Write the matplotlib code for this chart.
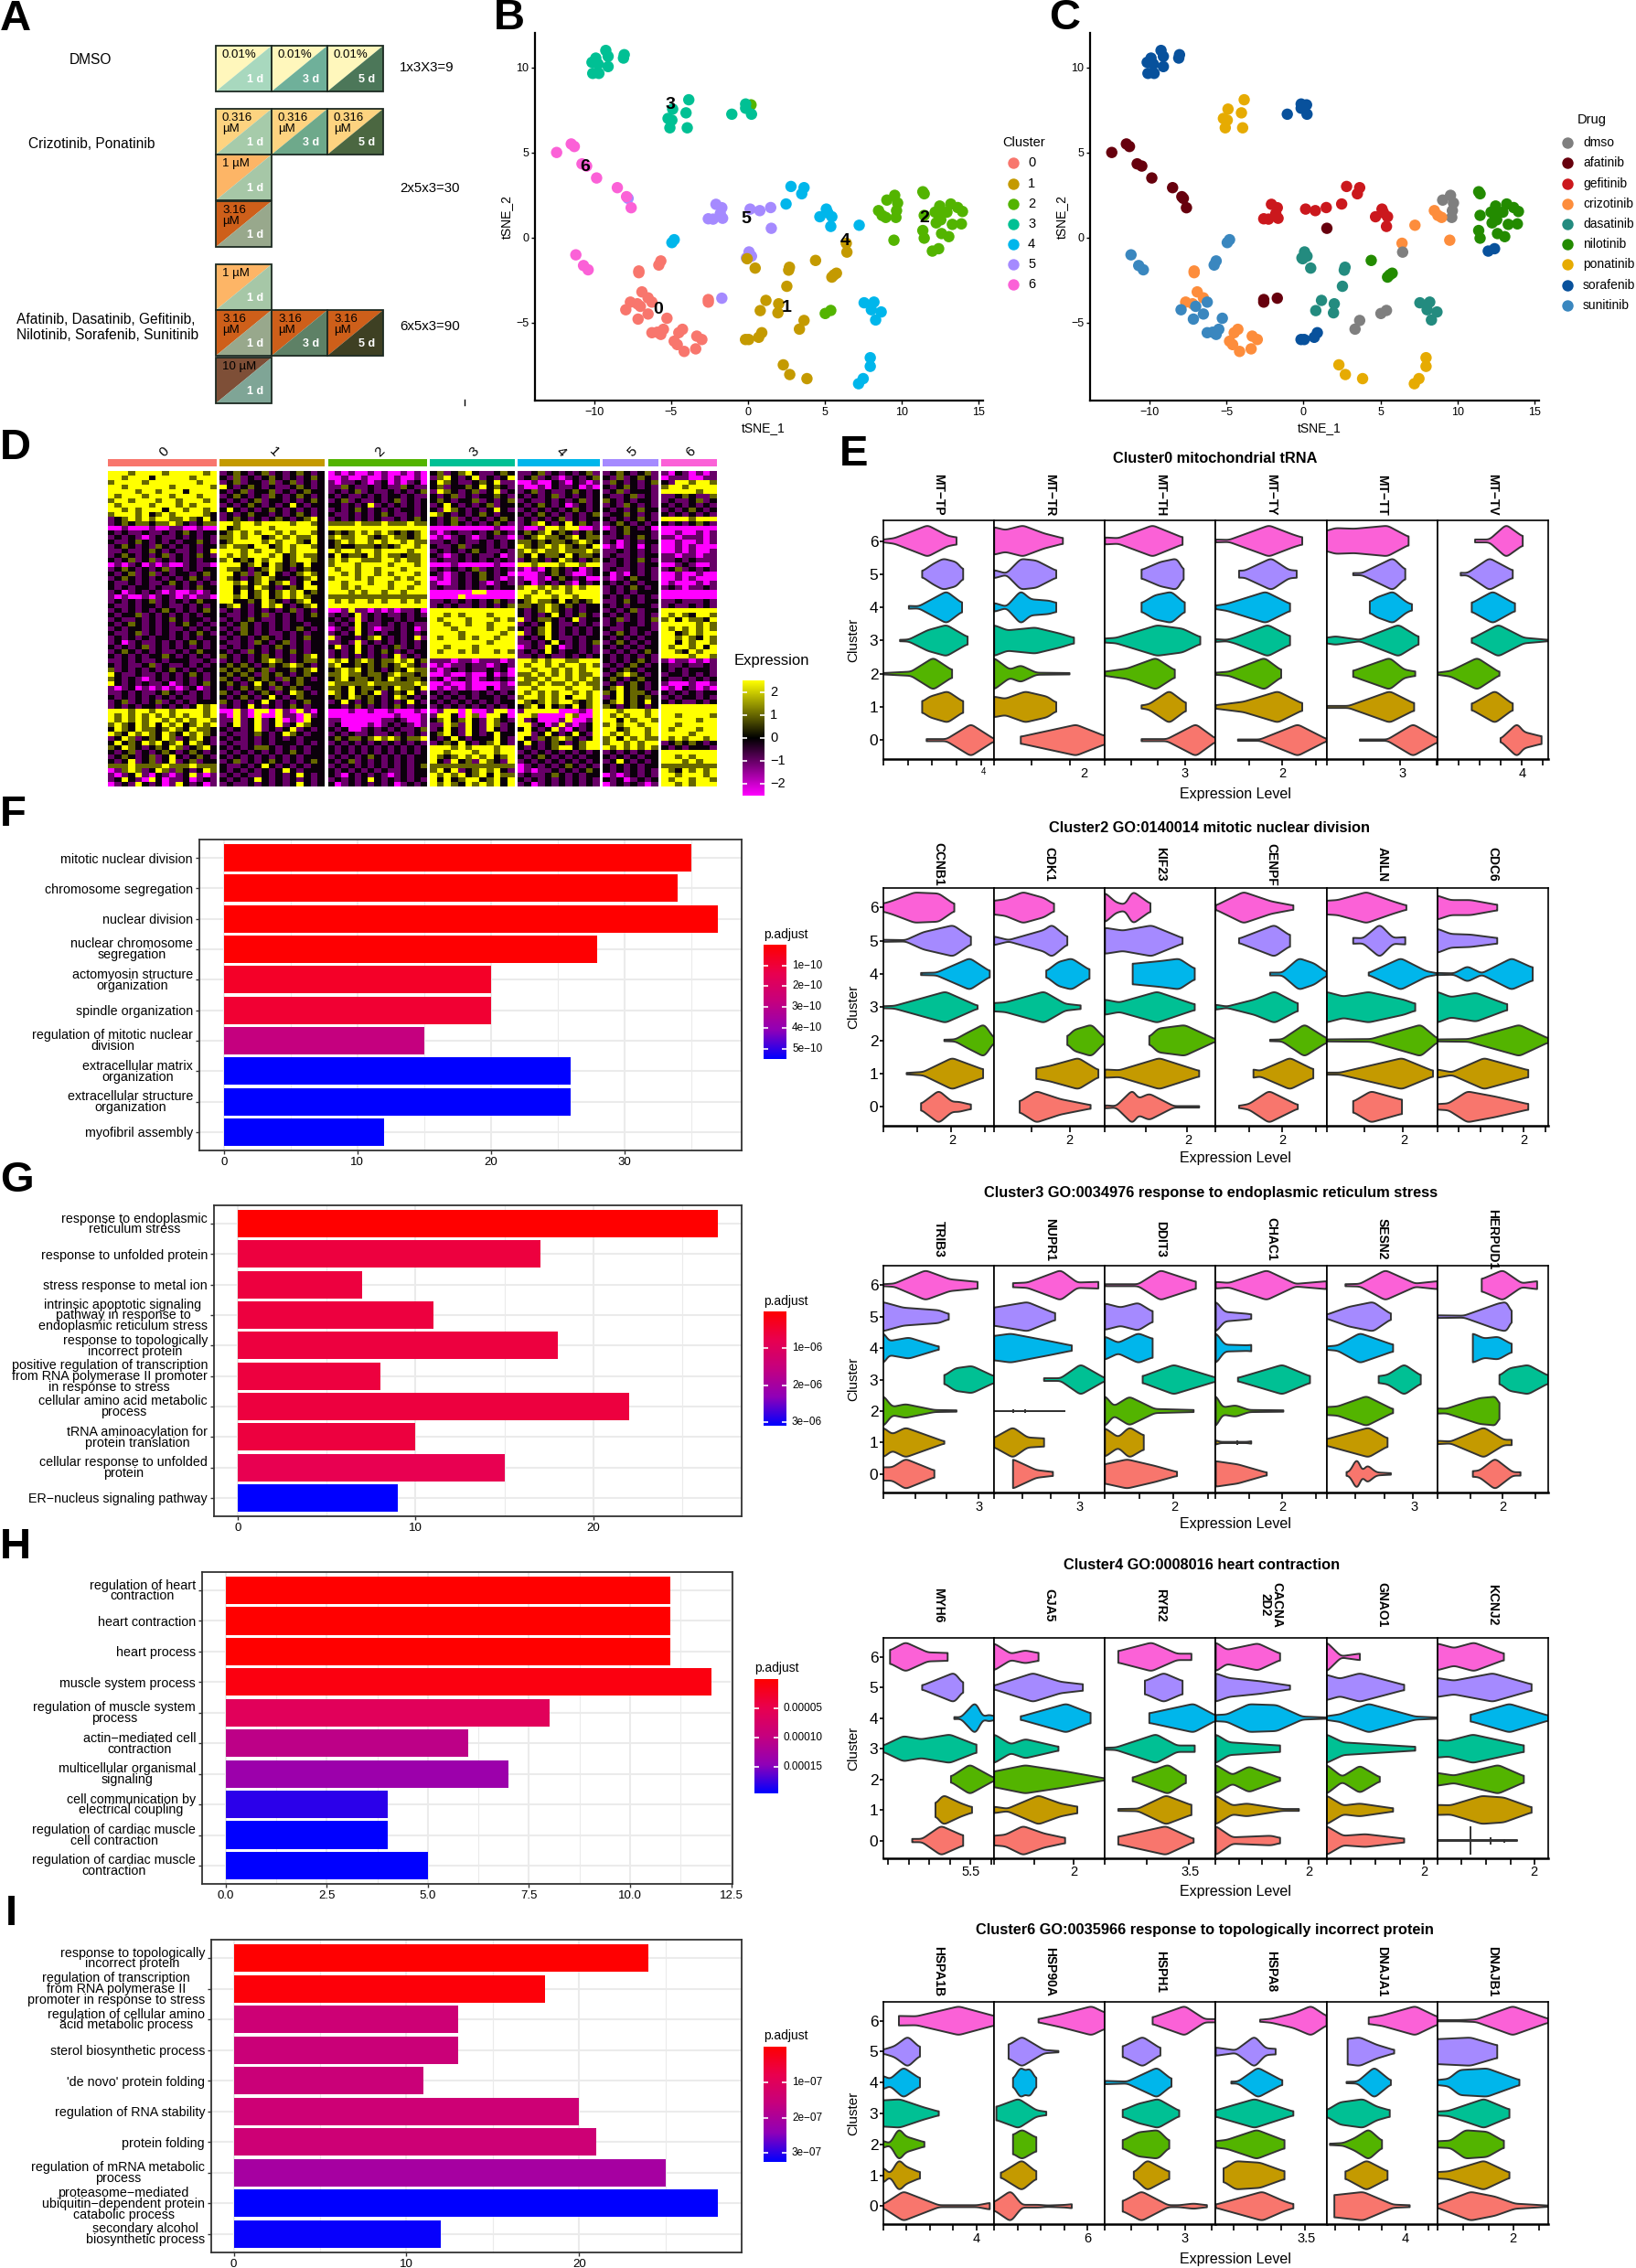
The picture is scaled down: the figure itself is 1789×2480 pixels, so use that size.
import numpy as np
import matplotlib
matplotlib.use('Agg')
import matplotlib.pyplot as plt
from matplotlib.colors import LinearSegmentedColormap
from matplotlib.patches import Polygon, Rectangle

plt.rcParams['font.family'] = ['Liberation Sans', 'DejaVu Sans']

W, H = 1790, 2480

# --- tSNE cells (panels B, C) ---
tsne1 = [-9.25,-9.1,-8.05,-8.1,-9.9,-10.15,-9.75,-9.1,-10.1,-9.7,  -3.85,-4.03,-3.95,-4.9,-5.2,-4.95,-5.08,
         0.2,  -0.15,-0.15,0.23,-1.05,  -7.8,  -12.45,-11.5,-11.3,-10.8,-10.5,-9.85,-8.5,-7.9,-7.6,  -11.2,-10.7,-10.4,
         -4.95,-4.8,  -5.8,-5.67,  -7.1,-7.1,-6.9,-6.5,-7.65,-7.2,
         -6.25,-7.95,-7.0,-6.5,-7.15,-5.27,-6.25,-5.5,-5.67,-5.9,
         -4.26,-4.5,-4.8,-4.6,-4.15,-3.4,-3.33,-3.0,  -2.58,-2.58,  -1.7,1.52,
         -2.08,-1.7,-1.8,-1.65,-2.58,-2.27,0.14,0.77,1.48,  0.07,0.23,-0.1,
         -0.05,0.47,2.7,2.65,2.53,1.17,0.8,2.0,1.95,  4.4,5.76,5.46,5.6,  6.4,  6.44,3.65,3.35,
         -0.16,0.05,0.7,0.9,  2.3,2.72,3.84,  7.96,7.96,7.5,7.2,  7.56,8.2,8.03,8.67,8.31,  5.03,5.39,
         2.8,3.65,3.5,2.48,5.1,5.2,4.68,5.46,5.39,  7.24,  9.55,9.04,9.74,9.67,9.63,  8.5,8.73,8.97,9.5,
         11.38,11.47,11.47,11.38,11.47,12.6,13.07,12.48,12.18,12.55,13.2,13.65,12.95,13.96,13.3,13.89,12.25,12.55,  12.0,12.41]
tsne2 = [11.0,10.65,10.75,10.55,10.55,10.3,10.2,10.05,9.65,9.65,  8.1,7.33,6.45,7.55,7.0,6.9,6.45,
         7.8,  7.85,7.6,7.25,7.25,  2.3,  5.0,5.5,5.35,4.33,4.2,3.5,2.93,2.4,1.75,  -1.02,-1.65,-1.9,
         -0.3,-0.13,  -1.62,-1.38,  -2.07,-1.97,-3.2,-3.55,-3.8,-3.9,
         -3.8,-4.25,-4.05,-4.5,-4.8,-4.75,-5.6,-5.4,-5.7,-5.57,
         -5.4,-5.6,-6.1,-6.3,-6.7,-6.55,-5.8,-6.0,  -3.65,-3.8,  -3.57,0.54,
         1.95,1.75,1.4,1.13,1.1,1.08,1.67,1.58,1.76,  -0.85,-1.1,-1.2,
         -1.25,-1.8,-1.75,-1.92,-2.87,-3.7,-4.3,-3.9,-4.43,  -1.35,-2.1,-2.33,-2.2,  -0.34,  -0.86,-4.88,-5.39,
         -6.0,-6.0,-5.87,-5.6,  -7.49,-8.06,-8.3,  -7.07,-7.58,-8.3,-8.6,  -3.84,-3.8,-4.25,-4.38,-4.85,  -4.47,-4.29,
         3.0,2.93,2.57,1.97,1.67,1.45,1.22,1.22,0.65,  0.72,  2.48,2.2,2.03,1.58,1.18,  1.58,1.3,1.18,-0.16,
         2.69,2.57,1.3,0.41,-0.04,0.23,0.05,1.85,1.49,1.49,1.97,1.76,1.49,1.53,0.77,0.8,0.86,1.04,  -0.8,-0.66]
group_n = [10,7,1,4,1,9,3,2,2,6,10,8,2,2,9,3,9,4,1,3,4,3,4,5,2,9,1,5,4,18,2]
group_cluster = [3,3,2,3,5,6,6,4,0,0,0,0,0,5,5,5,1,1,1,1,1,1,4,4,2,4,4,2,2,2,2]
group_drug = ['sorafenib','ponatinib','sorafenib','sorafenib','afatinib','afatinib','sunitinib','sunitinib','sunitinib',
              'crizotinib','sunitinib','crizotinib','afatinib','afatinib','gefitinib','dasatinib','dasatinib','nilotinib',
              'crizotinib','dmso','sorafenib','ponatinib','ponatinib','dasatinib','dmso','gefitinib','crizotinib','dmso',
              'crizotinib','nilotinib','sorafenib']
cluster_names = ['0','1','2','3','4','5','6']
cluster_colors = ['#F8766D','#C49A00','#53B400','#00C094','#00B6EB','#A58AFF','#FB61D7']
cluster_label_x = [-5.83,2.53,11.5,-5.08,6.32,-0.14,-10.6]
cluster_label_y = [-4.25,-4.13,1.13,7.83,-0.18,1.1,4.13]
drug_names = ['dmso','afatinib','gefitinib','crizotinib','dasatinib','nilotinib','ponatinib','sorafenib','sunitinib']
drug_colors = ['#7F7F7F','#67000D','#CB181D','#FD8D3C','#238B7F','#238B00','#E6AB02','#08519C','#3A87BF']

# --- heatmap (panel D), read by eye: m=-2 p=-1 .=0 o=1 y=2 ---
heat_rows = """yyyoyyyyoyyyyyoy p.o.p.op.p.o.p. mpmpmmpmpmmpmpm .op.oy.pp.o. pp.op.p.p.op p.o.p.op pm.pmpmp
yyoyyy.yyyyyoyyy .pop.p.o.p.p.o mmpmmpmmpmpmmpm poy.p.yp.p.y p.op.pmp.p.o .pop.o.p mpppmmpp
oyyyyoyyyyyyyoyy p.op..pop.op.p pmpp.pmp.mpmp.m .yo.pp.o.ypp mmpmm.pm.pmp po.p.p.o .pyyoyyo
yyoyyyyyyoyyyyyo y.p.o.p.pp.o.p ppo.pp.p.ppo.pp .op..o.y.o.p pmmpm.pp.mpm .p.o.p.p oyyoyyyy
yyyyoyyoyyy.yyyy .p.op..op.p.o. p.p.op.pp.p.p.o pyo.p.op.yp. p.op.pp.o.p. p.op...p yyyyyoyy
yoyyyoyyyoyyyoyy p.o.p.po.p.o.p .p.pp.p.p..p.pp .p.op.p..o.p .p.p.op.p.p. .pp.op.p pp.o.ppo
oyyoyyyoyyoyyyoy .p.p.op..p.p.o p.op.pp.p.op.p. .o.p..op.p.o p.pp.p.p.op. o.p.p..p p.pp.op.
yoyyyyoyyyoyoyyy p.p.o.p.p.y.p. ..p.p.yp.p.p.p. p.y.p.p.op.. .p.o.p.mp.p. p.po.p.p .p.p.p.p
yyoyoyyy.yyoyyoy .y.p.p.o.p.p.p p.p.o.p.p.p..p. .pyo.p.p.y.p p.p.p.p.o.p. .p.p.o.. p.p.o.p.
oyyyoy.oyoyyyyo. p.p.o..p.p.o.p .pp.p.p.o.pp.p. yo.p.p.o.p.. .p.o.p.p.p.o p..o.p.p .p.p.p.p
p.oyoyoyyooyo.y. p.o.p.p.o.p.oy p.p.p.p.pp.p.o. .p.op.p.p.o. p.p.p.op.p.. .p.p.o.p yyyyoyyy
p.o.oo.ooyo.p.oo yyoyyoyyyyoyyo ooooyoooyoooyoo .p.o.p.p.o.p p.oy.p.y.o.p p.o.p.p. .p.p.o.p
mmpmmmpmmppmmpmm y.oyyyyoyyyyyy yyyyyyyyyyyyyyy mmmmmmmmmpmm pmmpyyoyymmp mp.o.p.m mmmmmmmm
.p.pp.pp.p.o.p.. .oyoyoyyoyoyyo .o.oyoyoyo.o.oy pmp.pp.p.o.p .o.oy.o.p.o .p.o...p mmpmmpmp
p.p.pmp.pp.p.p.p ooyoyy.oyoyooy oyooyyo.oyoo.oy mpmp.pmp.ppm p.oyoo.oy.oo pp.p.o.p ppmpppmp
.pp.o.p.p.p..o.p .oyyyyoyoyyo.y .oyoyyoyoyyoyoo pp.p.pp.p.p. oo.o.oo.oyo. p.mp.p.. mmpmmpmp
p.o.p.po.p.p.p.. oyoo.yy.oyoyyo .o..ooo.o.oyyoy .pp.op..p.p. yo.oyoyo.o.y mpmp.m.p mmpmpmmm
pp.pp.o.p.pp.p.y yyyoyoyyoyoyyy yoyyoyyoyyyyoyy p.p.p.o.pp.p oyoyooyoooyo pp.p.p.p mmpmpmmp
p.o.p.p.op.p.o.p yoyoyyyoy.oyoo .y.oo.yoyoo.ooy .pmp.p.pp.mp o.y.oo.y.oo. p.pp.p.. ppmppmpp
.p.op.op.p.p.p.. oy.o.yoyy.oyyo oyoyyoooyyoyooy p.pp.p.p.p.p p.o.p.yo.p.o .p.p.o.p pp.p.ppp
mpmp.mpmpmmp.ppm yyy.oy.yo.o.y. oyyyoyyyyoyyyoy mmmpmmmmmpmm yyoyyyoyyoyy pp.p.p.. mmp.pmmp
p.o.p.p.op.p.p.. yoo.p.oyo.p.o. yoyyoyyoyyyoyyy p.p.p.op.p.p pmpm.o.p.mp. p.pp.p.p p.op.p.p
.p.op.op.p..p.o. yy.opo.y.p.oyo yyoyoyyoyoyyyoy .pmp.p.o.p.m mmmp.o.pmmp. .mpm.p.p mmpmmpmm
p.o.p.p.p.p.o.p. yo.p.oyo..p.oy oyyyoyoyyyoyoyy mpmp.p.o.pmp pmmpm.o.p.mm pmp.o..p mmpmpmmm
.pp.p.pp.o.p.p.p yyoy.oy.oyp.y. yyoyyyoyyoyyyoy pmmp.p.pmp.p p.mp.p.pm.p. .p.p.p.. mpmmmpmp
.p.p..p.pp.p.o.. yy.o.yo.p.o.yy yyoyoyyyyoyyoyy p.pp.p.p.p.. oyyoyoyoyoyy p.p.o.p. p.pmpp.p
p.mp.p.pmpmmpmp. yy.y.oy.oyoy.o yyyoyoyyoyyoyyy mmmmmmyymmmm yyoyoyyoyyyy p.p.p... mmmmmmmm
pmpmmpmp.pmpmppm yyoy.oy.oyoyo. ooooooooooooooo mmmmymmmmmmm yoyyyoyyoyyy .p.p.p.p mmmmmmmm
p.p.p.op.p.p.o.. yy..o.yo.p.oy. yoyoyyoyoyyoyoy pp.p.p.p.o.p .oyoo.y.o.oy pp.o.p.. pp.ppp.p
.pp.p..p.pp.p.p. .oy.p.yoy.p.oy yyyyyyyyyyyyyyy p.p.pp.p.p.o oo.oyo.o.p.. .p.p...p p.pp.p.p
p.p.p.p.o.p.p.o. p.p.p.p.p.op.p mmpyppmpmpmpp.m yyyyyyyyyyyy .p.oyo.p.p.. p.p.op.. yyyyyyyy
.p..op.p.p.p.p.. .pp.p.op.p.p.o p.p.yp.p.pp.p.p yyoyoyyyoyyy .p.p.y.p.o.p .p.p.p.p yoyo.yyo
p.pp.p.p.o.p..p. p.p.o.pp.p.p.. .p.pyp.p..p.p.. yoyyyoyyyoyo yp.oo.p.yp.. p.op.p.o oy.yoo.y
.p.o.p.p.p.o.p.p .p.o.p.p.p..p. p.p.y.pp.p.p.pp yyoyyoyyoyyy p.p.y.pp.p.p p.p..p.p yyyyyoyo
p.p..p.p.pp.p.p. p.po.p.p.p.o.p mp.py.pmpp.p.mp yyyoyyyyoyyo .p.oy.p.p.p. .pp.p..p yoyoyoyo
.pp.op.p.p.p.o.p .p.o.p.pp.p.p. p.p.y.p.p..p.p. yyyyoyyyyyoy yp.oy.p.p.p. p.o.p.p. yy.oyoyy
p.p.p.p..p.p.p.. p.p.p.o.p.p.o. yp..p.oy.p.p.yp yoyyoyoyyoyy p.p.y.pp.p.. .p.p.p.. yyoyo.yo
p.mp.pp.p.p.o.p. .pp.po.p.op.p. pp.pyp.p.p.p.p. yyyyyyyyoyyy pp.p.y.p.p.o p.o.p.p. yy.yoyyo
.p.p.op.p.p.p.p. p.p.p.p.o.p.p. .yp.y.p.p.op.p. yyoyyyoyyyyy mp.py.mp.p.p .p.p.p.. yoyyoy.y
p.o.p.p.pp.p.o.. .p.po.p.p.o.p. p.p.y.p.o.p.p.. yoyyoyoyyoyo p.p.y.p..p.p p.p.p.o. yyo.yoyy
.p.p.p..o.p.p.p. o.p.p.o.p.p.oy p.p.p.p.p.yp.p. yyyyyyyyyyyy pp.p.pp.p.p. .p.p.p.p yyyyoyyo
pp.p.pp.p...pp.p p.p.p.oyo.p.oo yoy.oyo.ooyoy.o pppmppmpppmp yyoyoyyooyyy .p.p.o.p pmppmpmp
.p.pp.op.pp.p.p. .o.o.p.o.oyo.p oy..o.o.o.oyo.p mpmpp.ppmp.p yoyyoyoyyoyo p.p.o.p. .pp.pp.p
op.p.p.p.o.p.p.. o.o.o.op..o.oy .oyoy.o.p.o.yoo pmp.p.pp.p.m yyoyyoyoyoyy .p.o.p.. .p.p...p
y.pp.pp.p.p.o.p. .o.o.po.o.p.o. ooyoo.oo.oyoo.o mmpmmpmm.mpm ooyoyoyoyooy p.oyo.p. p..p.p.p
o.p.pmp.p.p.p.p. o.p.o.o.po.o.p .oy.oo.o.yo.oo. p.mp.pmp.p.p yooyoyyoyoyo .o.p.o.. .pp.p.p.
y.p.p.pp.mp.p.o. .o.p.y.o.p.o.. yoooooyooooooyo mmpmmpmmmmpm ooyoyooyoyoo p.p.o.p. pmmmpmmp
pmp.mpmpmpmp.mp. .p.o.o.po.o.p. oo.y.oo.o.yoo.y mpmpmpmm.mpp yyoyyyyoyyyo .oy.o.p. mpm.pmpm
pp.p.pp.o.p.p.p. o.p.p.o.p.yo.p yo.y.o.yp.o.y.p .p.p..p.p.p. yoyoyoyyoyoy o.y.oo.p .p.p.p..
.p.p.p.p.p.pp.p. .p.o.p.y.p.o.. .o.yo.o.p.yo.p. p.p.p.p..p.p oyyoyoy.yyoy p.y.o.o. p.p..p.p
p.op.p.op.p.p... o.p.p.y.p.p.o. p.y.p.o.p.p.y.p .p.p.p.p.p.. yo.oyoyyo.oy .oy.o.y. .p.pp.p.
p.p.p..p.p.p.yoy p.p.y.p.p.o.p. ..p.o.p.p.o.p.. p.p.p.p.p.p. .oy.y.o.y.oy o.p.o.p. yyyyyyyy
yyyoyyoyyoyyyyoy mmypmyymypmypm mmmpmmpmmpmmmpm mpyymymmpyym pyyyyymmmpmy yyoyyyoy yyyyyyyy
yoyoyoyoyoyoyyoy pmypmymmyppmyp mmmmmmmmmmpmmmp pyy.myomyy.m yyommmmyommy yoyoyyoy yyoyyyyo
yoyoyoyyoyoyoyyo ppyp.yp.ympmy. ppmmmmmmpp.pmmp .oy.oy.pyo.p yp.mmmpymmpy yy.yoyyo yyyyyoyy
oyo.yoy.yoy.oyoy p.yp.yp.yp.yo. p.mmmmpmp.p.pmp ppyopy.pyop. yyp.mpypmp.y oyoyyoyy yyoyyyyy
.yo.yoo.oyo.yoo. .p.p.yp.p.yp.p .p.mmp.p.p.pp.o p.y.py.py.p. .y.p.ypm.p.y yy.oyyoy yoyyyoyy
yo.yoyo.yo.yoyo. p.pp.o.p.yo.p. p.p.pp.pp.p.p.p .oy.py.p.y.. yyp.y.p.y.py yoyoyyoy yyyyoyyy
p.yop.o.yop.oy.p .p.p.p.p.p.p.. .o.oo.oyoyo.ooy .p.y.p...y.p y.po.oyo.p.y oy.yoyoo yoyoyyoy
.y.o.yoy.oy.yo.p p.pp.p.p...p.p p.p.p.p.p.p.p.p p.o.y.p.oy.p .y.p.o.p.oyy oyyoyoyy p.o.o.p.
o.yo.p.o.yop.oy. .p.p.oo.p.p.p. .p.p.p.p.p.p.p. yyyoyoyyyoyy .p.p.oyy.oyy yoyoyoyo .p.p...p
.p.op.p.o.p.o.p. p.p.p.p.p.o.p. .p.p.p.p.p.p.p. yyoyyyoyyoyy p.p.p.p.p.p. p.p.p.p. yyyyyyyy
p.o.p.op.y.p.o.p .p.p.p.p.p.p.. p.p.p.o.p.p.p.. yo.oyoyoy.oy .p.o.p.p.p.. .p.p.p.. yyoyoyyy
.p.yp.op.yp.op.. p.op.p.o.p.p.o .p.op.p.p.p.p.. y.py.opyo.py p.p.p.p.p.p. p.y.p.p. yyyoyoyy
oooyooooyoooyooo .pp.p.y.p.p.p. p.p.p.p.p.p.p.o oooooooooooo mp.p.p.o.p.p .p.p.p.. oooooooo
mpoyop.yopo.p.yo .p.p.p.p.y.p.. .p.p.p.p.pp.p.. oy.yp.oyoy.p mpmpp.p.p.o. .p.p.p.p yo.yoyoy
pmp.ypm.pmp.ypmp p.p.pp.p.p.y.p .pm.p.p.pmp.p.. yoyoy.oy.yoo p.pp.o.p.p.. mpmp.p.p yyoyyyoy
p.y.pmy.mpp.mp.p .p.p.y.p.p.p.p p.p.p.y.p.p.p.p y.y.oyy.oy.y .p.p.p.p.p.p .p.mp.p. yoyyoyyo
mp.py.p.mpy.p.mp p.pp.p.p.p.y.p .mp.p.p.p.mp.p. yoyo.yoyoy.y p.mp.p.p.p.p mp.p.pmp yyoyoyyy""".split('\n')
heat_levels = {'m': -2.5, 'p': -1.0, '.': -0.1, 'o': 1.0, 'y': 2.5}

# --- violins (panel E): "x halfwidth" knots per cluster, top row (6) to bottom row (0) ---
genes_e1 = ['MT\u2212TP','MT\u2212TR','MT\u2212TH','MT\u2212TY','MT\u2212TT','MT\u2212TV']
viol_e1 = [
 ["0 4,10 8,40 45,58 15,66 10","35 8,45 30,54 45,66 35,72 12","23 4,32 3,57 45,71 12","15 2,23 3,40 30,57 45,76 10","0 2,25 6,45 45,62 10","35 15,42 30,58 45,72 15","39 3,57 3,79 45,100 3"],
 ["0 40,10 32,26 45,45 22,62 8","0 12,11 2,24 45,38 40,56 10","0 12,11 2,24 45,33 22,50 18,56 12","0 45,12 30,37 38,60 20,72 8","0 45,14 12,24 24,38 3,68 2","0 30,10 24,28 45,48 30,56 12","24 10,74 45,100 12"],
 ["0 10,12 8,43 45,70 10","33 12,50 35,65 45,71 10","33 12,45 35,60 45,72 12","0 6,10 8,47 45,70 35,86 10","0 6,20 15,46 45,63 10","33 4,40 8,58 45,73 10","33 3,56 3,82 45,100 4"],
 ["0 4,12 3,48 45,70 18,78 10","21 10,26 10,50 45,66 12,73 10","0 5,10 10,45 45,67 10","0 4,10 2,17 8,47 45,67 12","0 3,12 6,22 18,44 45,59 10","0 5,25 15,56 45,78 10","20 2,40 2,74 45,100 3"],
 ["0 30,8 38,25 36,55 45,74 12","24 3,32 3,60 45,71 12","39 15,45 28,60 45,72 15,77 8","0 8,8 12,30 2,65 45,83 10","24 8,30 15,57 45,70 12,80 6","0 3,20 3,57 45,79 10","30 2,55 2,78 45,100 6"],
 ["34 4,47 4,62 45,77 12","21 4,27 3,47 45,68 10","31 12,40 28,50 45,70 10","31 5,55 45,78 8,100 2","0 3,12 8,36 45,56 4","31 8,52 45,68 8","57 3,72 45,78 22,94 10"]]
genes_e2 = ['CCNB1','CDK1','KIF23','CENPF','ANLN','CDC6']
viol_e2 = [
 ["0 12,8 20,28 45,50 42,64 10","0 3,20 2,36 25,63 45,79 10","34 3,48 4,78 45,96 8","0 3,10 4,56 45,85 4","55 2,65 3,75 20,91 45,100 5","21 2,36 5,62 45,90 12","34 8,50 45,62 14,68 14,79 6"],
 ["0 20,10 24,26 45,45 28,54 10","0 12,13 2,45 30,52 45,66 10","47 8,58 35,70 45,86 12","0 12,10 14,45 45,64 10,78 5","66 10,72 30,88 45,100 5","38 15,50 22,76 45,94 10","23 15,38 45,60 22,87 5"],
 ["0 40,10 14,18 8,25 44,41 10","0 38,16 30,42 45,70 8","25 30,50 38,67 45,81 15","0 22,13 14,47 45,81 8","40 10,48 35,72 45,100 3","0 12,13 10,49 45,85 8","0 4,10 2,25 45,30 22,40 35,62 2,85 2"],
 ["0 6,25 45,50 18,70 6","21 6,53 45,67 15","49 4,60 4,75 45,89 30,100 5","0 7,10 2,35 22,53 45,74 10","49 2,60 3,80 45,100 6","34 12,40 8,67 45,88 12","21 3,30 8,48 45,74 5"],
 ["0 20,10 22,36 45,60 18,72 6","24 8,33 7,48 45,60 8,71 10","38 3,67 45,90 8,100 2","0 45,15 32,38 45,70 22,80 10","0 3,40 4,85 45,100 5","0 3,12 3,68 45,96 8","24 15,40 45,68 20"],
 ["0 35,12 22,30 22,54 8","0 35,12 20,30 18,54 8","0 3,15 2,27 22,40 2,67 45,86 18","0 45,12 30,35 42,63 8","0 3,28 4,74 45,100 6","0 12,13 4,42 45,82 10","0 8,10 10,27 45,52 30,82 8"]]
genes_e3 = ['TRIB3','NUPR1','DDIT3','CHAC1','SESN2','HERPUD1']
viol_e3 = [
 ["0 3,10 5,38 45,60 18,85 10","0 45,18 28,50 20,59 8","0 45,5 20,23 30,50 4","55 12,65 35,80 42,100 10","0 45,8 12,20 20,46 3,66 2","0 45,8 25,20 45,55 3","0 20,8 20,20 45,35 25,46 10"],
 ["17 6,30 8,60 45,75 8,94 10","0 28,30 45,55 10","0 38,15 45,50 22,70 8","45 4,60 4,78 45,100 4","0 1,63 1","0 14,17 45,30 15,45 12","17 45,38 12,53 6"],
 ["0 3,30 3,50 45,82 10","0 40,14 28,30 42,43 15","0 35,12 16,30 45,43 28","34 10,62 45,100 6","0 45,8 14,22 42,45 6,80 3","0 42,12 15,22 45,35 20","0 30,20 45,45 25,65 6"],
 ["0 10,12 7,46 45,72 4,100 12","0 45,8 14,30 8,32 6","0 45,8 10,30 8,32 10","20 5,60 45,85 10","0 45,6 10,18 16,30 3,61 2","0 8,3 2,30 2,32 5","0 40,20 30,46 4"],
 ["17 3,30 4,53 45,80 5,100 12","0 6,20 30,42 45,58 8","0 5,10 8,30 45,60 10","47 10,55 14,70 45,85 12","0 12,10 14,36 45,60 5","0 10,38 45,55 12","18 6,20 2,28 45,32 2,36 25,45 4,58 2"],
 ["40 18,59 45,76 6,90 12","0 4,24 3,55 40,63 45,67 10","32 45,42 30,55 35,67 12","56 12,65 35,82 45,100 12","0 8,8 7,38 40,54 45,56 12","0 5,12 3,42 45,60 8,67 8","32 8,38 10,52 45,68 5,75 5"]]
genes_e4 = ['MYH6','GJA5','RYR2','CACNA\n2D2','GNAO1','KCNJ2']
viol_e4 = [
 ["6 20,20 45,40 14,58 12","35 6,64 45,72 12","64 3,70 2,83 45,90 3,95 10,100 5","0 10,18 40,34 30,60 45,84 12","61 8,78 45,100 4","47 18,54 45,70 20,80 8","26 5,35 5,52 45,72 15"],
 ["0 42,15 10,28 20,40 12","0 6,35 45,60 18,80 10","24 5,65 45,87 15","0 45,15 14,28 30,58 6","0 25,28 45,65 25,100 3","0 10,12 4,40 45,60 20,75 10","0 15,10 18,26 45,45 22,64 8"],
 ["12 18,42 45,65 10,78 10","36 20,53 45,70 20","40 15,60 30,80 45,100 8","0 3,10 4,46 45,65 10,81 10","25 5,57 45,73 10","12 3,30 4,55 45,78 15","12 12,55 45,80 5"],
 ["0 45,10 22,38 42,58 10","0 45,12 30,40 20,67 6","0 10,10 12,30 45,55 42,78 5,100 2","0 45,12 20,58 10","0 45,15 14,30 40,58 4","0 45,15 14,28 20,60 3,75 3","0 45,15 10,50 15,58 8"],
 ["0 45,13 2,30 10","0 40,12 28,30 45,70 8","0 6,12 12,38 45,80 5,100 2","0 45,15 20,80 6","0 45,14 8,30 42,48 6","0 45,15 14,30 20,60 5","0 45,15 15,35 20,70 6"],
 ["0 42,15 28,33 45,60 10","0 30,15 22,50 45,85 10","30 10,65 45,100 8","0 28,10 25,32 45,78 10","0 20,15 12,55 45,78 10","0 16,12 15,40 45,60 40,85 8","0 1,72 1"]]
genes_e5 = ['HSPA1B','HSP90A','HSPH1','HSPA8','DNAJA1','DNAJB1']
viol_e5 = [
 ["14 15,30 14,68 45,100 15","0 6,10 16,22 45,33 12","0 20,6 10,18 45,33 12","0 42,15 45,36 20,50 6","0 10,6 2,14 45,20 22,37 6","0 22,6 3,14 45,20 25,33 8","0 6,18 45,50 3,85 3,96 10"],
 ["40 5,60 20,88 45,100 25","13 20,25 45,45 5,58 2","17 8,24 45,28 30,32 42,38 8","2 20,22 45,38 10,47 5","17 28,25 45,38 20","6 6,25 45,38 10","0 12,15 45,25 4,40 4,48 2,65 4,70 6"],
 ["43 10,72 45,90 5,100 5","16 15,34 45,50 10","0 5,20 3,47 45,60 10","16 10,30 30,48 45,67 8","16 12,30 38,48 45,58 10","26 8,38 45,58 10","16 15,33 45,57 3,67 3,80 8,92 3"],
 ["40 3,50 6,70 22,86 45,100 14","0 12,18 4,35 45,45 10,54 8","14 3,20 3,38 45,60 6","0 10,35 45,70 6","0 10,10 14,37 45,62 12","7 20,18 45,40 40,62 12","0 5,42 45,62 15,70 6"],
 ["38 10,50 16,80 45,100 12","19 40,30 45,45 22,61 5","18 2,28 3,43 45,58 5","0 10,12 35,33 45,45 22,57 10","3 2,15 4,25 18,38 45,50 10","17 10,36 45,55 12","7 35,33 45,60 5,75 3"],
 ["0 2,20 2,35 4,68 45,100 6","0 40,30 45,54 20","0 8,10 12,20 40,45 45,74 8","0 6,10 8,42 45,65 12","0 10,12 12,25 45,45 40,60 10","0 10,10 12,42 45,65 8","0 5,30 45,52 30,70 8,100 2"]]
# single-value spikes on otherwise flat violins: panel, gene, cluster, x, half width
spike_panel = [2, 2, 2, 3, 3, 3]
spike_gene = [1, 1, 3, 5, 5, 5]
spike_cluster = [2, 2, 1, 0, 0, 0]
spike_x = [17, 28, 19, 30, 48, 60]
spike_hw = [5, 6, 8, 46, 12, 6]
e_titles = ['Cluster0 mitochondrial tRNA','Cluster2 GO:0140014 mitotic nuclear division',
            'Cluster3 GO:0034976 response to endoplasmic reticulum stress','Cluster4 GO:0008016 heart contraction',
            'Cluster6 GO:0035966 response to topologically incorrect protein']
# first tick, tick step, labelled position, label for each facet
ticks_e1 = [(0,22,90,'4'),(0,34,81,'2'),(0,24,72,'3'),(0,30,60,'2'),(0,33,68,'3'),(0,19,77,'4')]
ticks_e2 = [(0,30.5,62,'2'),(0,34,68,'2'),(0,37,75,'2'),(0,30,60,'2'),(0,34.5,70,'2'),(0,19.5,78,'2')]
ticks_e3 = [(0,28.5,86,'3'),(0,25.5,77,'3'),(0,31,63,'2'),(0,30,60,'2'),(0,26,79,'3'),(0,29.5,59,'2')]
ticks_e4 = [(4,18.7,79,'5.5'),(0,36,72,'2'),(0,38,77,'3.5'),(0,21,84,'2'),(0,22,88,'2'),(0,22,87,'2')]
ticks_e5 = [(0,21,84,'4'),(0,21,84,'6'),(0,24,72,'3'),(16,21.5,82,'3.5'),(8,21,71,'4'),(0,23,68,'2')]

# --- GO bars (panels F-I) ---
terms_f = ['mitotic nuclear division','chromosome segregation','nuclear division','nuclear chromosome\nsegregation',
           'actomyosin structure\norganization','spindle organization','regulation of mitotic nuclear\ndivision',
           'extracellular matrix\norganization','extracellular structure\norganization','myofibril assembly']
count_f = [35,34,37,28,20,20,15,26,26,12]
padj_f = [0.02,0.02,0.02,0.05,0.7,0.9,2.75,5.5,5.5,5.5]
terms_g = ['response to endoplasmic\nreticulum stress','response to unfolded protein','stress response to metal ion',
           'intrinsic apoptotic signaling\npathway in response to\nendoplasmic reticulum stress',
           'response to topologically\nincorrect protein',
           'positive regulation of transcription\nfrom RNA polymerase II promoter\nin response to stress',
           'cellular amino acid metabolic\nprocess','tRNA aminoacylation for\nprotein translation',
           'cellular response to unfolded\nprotein','ER\u2212nucleus signaling pathway']
count_g = [27,17,7,11,18,8,22,10,15,9]
padj_g = [0.0,0.62,0.62,0.62,0.62,0.62,0.62,0.62,0.8,3.1]
terms_h = ['regulation of heart\ncontraction','heart contraction','heart process','muscle system process',
           'regulation of muscle system\nprocess','actin\u2212mediated cell\ncontraction','multicellular organismal\nsignaling',
           'cell communication by\nelectrical coupling','regulation of cardiac muscle\ncell contraction',
           'regulation of cardiac muscle\ncontraction']
count_h = [11,11,11,12,8,6,7,4,4,5]
padj_h = [0.0,0.0,0.0,0.00001,0.00006,0.000105,0.000135,0.00018,0.000195,0.000195]
terms_i = ['response to topologically\nincorrect protein',
           'regulation of transcription\nfrom RNA polymerase II\npromoter in response to stress',
           'regulation of cellular amino\nacid metabolic process','sterol biosynthetic process',"'de novo' protein folding",
           'regulation of RNA stability','protein folding','regulation of mRNA metabolic\nprocess',
           'proteasome\u2212mediated\nubiquitin\u2212dependent protein\ncatabolic process',
           'secondary alcohol\nbiosynthetic process']
count_i = [24,18,13,13,11,20,21,25,28,12]
padj_i = [0.02,0.1,1.45,1.5,1.5,1.45,1.45,2.1,3.25,3.2]

# --- experiment design tiles (panel A) ---
tile_conc = ['0.01%','0.01%','0.01%','0.316\n\u00b5M','0.316\n\u00b5M','0.316\n\u00b5M','1 \u00b5M','3.16\n\u00b5M',
             '1 \u00b5M','3.16\n\u00b5M','3.16\n\u00b5M','3.16\n\u00b5M','10 \u00b5M']
tile_day = ['1 d','3 d','5 d','1 d','3 d','5 d','1 d','1 d','1 d','1 d','3 d','5 d','1 d']
tile_upper = ['#FFF7BC','#FFF7BC','#FFF7BC','#FDD380','#FDD380','#FDD380','#FDB566','#CE5F1A','#FDB566','#CE5F1A','#CE5F1A','#CE5F1A','#7E4F37']
tile_lower = ['#A8D8BE','#6FB09A','#4C7759','#A6CBAA','#6EA98B','#4B6741','#A6C7A7','#98A88C','#A6C7A7','#98A88C','#5E8166','#3E4023','#7FA596']

fig = plt.figure(figsize=(W/100, H/100), dpi=100)


def px_axes(l, t, r, b):
    return fig.add_axes([l/W, 1-b/H, (r-l)/W, (b-t)/H])


ov = fig.add_axes([0, 0, 1, 1], zorder=10)
ov.set_xlim(0, W)
ov.set_ylim(H, 0)
ov.axis('off')

for s, x, y in [('A',0,33),('B',540,32),('C',1147,32),('D',0,502),('E',918,509),('F',0,903),('G',0,1303),('H',0,1704),('I',6,2105)]:
    ov.text(x, y, s, fontsize=34, fontweight='bold', va='baseline')

# panel A
col_x = [236, 297, 358]
row_y = [50, 119, 169, 220, 289, 339, 391]
tile_col = [0,1,2,0,1,2,0,0,0,0,1,2,0]
tile_row = [0,0,0,1,1,1,2,3,4,5,5,5,6]
tw, th = 61, 50
for i in range(len(tile_conc)):
    x, y = col_x[tile_col[i]], row_y[tile_row[i]]
    ov.add_patch(Polygon([(x, y), (x+tw, y), (x, y+th)], fc=tile_upper[i], ec='none'))
    ov.add_patch(Polygon([(x+tw, y), (x+tw, y+th), (x, y+th)], fc=tile_lower[i], ec='none'))
    ov.add_patch(Rectangle((x, y), tw, th, fc='none', ec='#1c2a22', lw=1.3))
    ov.text(x+7, y+4, tile_conc[i], fontsize=9.5, va='top', linespacing=1.05)
    ov.text(x+tw-9, y+th-7, tile_day[i], fontsize=9, fontweight='bold', color='white', ha='right', va='bottom')
ov.text(99, 65, 'DMSO', fontsize=11.2, ha='center', va='center')
ov.text(100, 157, 'Crizotinib, Ponatinib', fontsize=11.2, ha='center', va='center')
ov.text(18, 358, 'Afatinib, Dasatinib, Gefitinib,\nNilotinib, Sorafenib, Sunitinib', fontsize=11.2, va='center')
ov.text(437, 74, '1x3X3=9', fontsize=10.8, va='center')
ov.text(437, 206, '2x5x3=30', fontsize=10.8, va='center')
ov.text(437, 357, '6x5x3=90', fontsize=10.8, va='center')
ov.plot([508, 508], [437, 443], color='k', lw=1)

# panels B and C
cell_cluster = np.repeat(group_cluster, group_n)
cell_drug = np.repeat(group_drug, group_n)
for name, box, lab_x in [('B', (585, 36, 1075, 438), 554), ('C', (1192, 36, 1683, 438), 1161)]:
    ax = px_axes(*box)
    if name == 'B':
        colors = [cluster_colors[c] for c in cell_cluster]
    else:
        colors = [drug_colors[drug_names.index(d)] for d in cell_drug]
    ax.scatter(tsne1, tsne2, s=80, c=colors, linewidths=0)
    if name == 'B':
        for k in range(7):
            ax.text(cluster_label_x[k], cluster_label_y[k], cluster_names[k], fontsize=14, fontweight='bold', ha='center', va='center')
    ax.set_xlim(-13.86, 15.3)
    ax.set_ylim(-9.59, 12.03)
    ax.set_xticks([-10, -5, 0, 5, 10, 15])
    ax.set_yticks([-5, 0, 5, 10])
    ax.tick_params(labelsize=9, length=3, width=1, pad=2)
    for sp in ['top', 'right']:
        ax.spines[sp].set_visible(False)
    for sp in ['left', 'bottom']:
        ax.spines[sp].set_linewidth(1.6)
    ov.text((box[0]+box[2])/2+5, 468, 'tSNE_1', fontsize=10, ha='center', va='center')
    ov.text(lab_x, 237, 'tSNE_2', fontsize=10, rotation=90, ha='center', va='center')

ov.text(1096, 156, 'Cluster', fontsize=10.5, va='center')
for k, yy in enumerate([178, 200.7, 222.7, 245, 267, 289, 311]):
    ov.scatter([1108], [yy], s=80, c=cluster_colors[k], linewidths=0)
    ov.text(1124, yy, cluster_names[k], fontsize=10.5, va='center')
ov.text(1725, 131, 'Drug', fontsize=10.5, va='center')
for k, yy in enumerate([156, 178, 200.7, 222.7, 245, 267, 289, 311.7, 333.7]):
    ov.scatter([1714], [yy], s=80, c=drug_colors[k], linewidths=0)
    ov.text(1731, yy, drug_names[k], fontsize=10, va='center')

# panel D
heat_cmap = LinearSegmentedColormap.from_list('py', ['#FF00FF', '#000000', '#FFFF00'])
heat_boxes = [(118,237),(240,355),(359,467),(470,563),(566,656),(659,720),(723,784)]
heat_cols = [16,15,15,12,12,8,8]
for k in range(7):
    m = []
    for row in heat_rows:
        chunk = (row.split(' ')[k] + '.'*heat_cols[k])[:heat_cols[k]]
        m.append([heat_levels[c] for c in chunk])
    ax = px_axes(heat_boxes[k][0], 515, heat_boxes[k][1], 860)
    ax.imshow(m, cmap=heat_cmap, vmin=-2.5, vmax=2.5, aspect='auto', interpolation='nearest')
    ax.axis('off')
    ov.add_patch(Rectangle((heat_boxes[k][0], 502), heat_boxes[k][1]-heat_boxes[k][0], 8, fc=cluster_colors[k], ec='none'))
    ov.text(sum(heat_boxes[k])/2+2, 494, cluster_names[k], fontsize=11, rotation=-45 if k in (1,4) else 45, ha='center', va='center')


def color_key(box, cmap, vmin, vmax, ticks, labels, title, title_x, title_y, fs=8.5, tfs=10):
    ax = px_axes(*box)
    ax.imshow(np.linspace(vmin, vmax, 256)[:, None], aspect='auto', cmap=cmap, vmin=vmin, vmax=vmax,
              extent=[0, 1, vmax, vmin])
    ax.hlines(ticks, 0, 0.2, color='white', lw=1.2)
    ax.hlines(ticks, 0.8, 1, color='white', lw=1.2)
    ax.axis('off')
    for t, lab in zip(ticks, labels):
        yy = box[1] + (t-vmin)/(vmax-vmin)*(box[3]-box[1])
        ov.text(box[2]+6, yy, lab, fontsize=fs, va='center')
    ov.text(title_x, title_y, title, fontsize=tfs, va='center')


color_key((812, 744, 836, 870), heat_cmap.reversed(), -2.5, 2.5, [-2, -1, 0, 1, 2],
          ['2', '1', '0', '\u22121', '\u22122'], 'Expression', 803, 722, 10.5, 12)

# panels F-I
bar_cmap = LinearSegmentedColormap.from_list('rb', ['#FF0000', '#E9004F', '#C5007F', '#9000B8', '#0000FF'])
bar_panels = [
    (terms_f, count_f, padj_f, (218, 918, 811, 1258), (-1.85, 38.8), [0, 10, 20, 30], 5, 5.5, (835, 1033, 860, 1158), [1, 2, 3, 4, 5], 'e\u221210', 1022),
    (terms_g, count_g, padj_g, (234, 1318, 811, 1658), (-1.33, 28.33), [0, 10, 20], 5, 3.1, (835, 1434, 860, 1559), [1, 2, 3], 'e\u221206', 1423),
    (terms_h, count_h, padj_h, (221, 1719, 801, 2060), (-0.58, 12.53), [0, 2.5, 5, 7.5, 10, 12.5], 1.25, 0.000195, (825, 1836, 851, 1961), [0.00005, 0.0001, 0.00015], None, 1824),
    (terms_i, count_i, padj_i, (231, 2121, 811, 2463), (-1.3, 29.4), [0, 10, 20], 5, 3.25, (835, 2238, 860, 2364), [1, 2, 3], 'e\u221207', 2226),
]
for terms, counts, padj, box, xl, xt, minor, vmax, cb, cb_ticks, suffix, title_y in bar_panels:
    ax = px_axes(*box)
    ypos = np.arange(len(terms))[::-1]
    ax.barh(ypos, counts, height=0.9, color=[bar_cmap(p/vmax) for p in padj], zorder=3)
    ax.set_xlim(*xl)
    ax.set_ylim(-0.6, 9.6)
    ax.set_yticks(ypos)
    ax.set_yticklabels(terms, fontsize=10.3, linespacing=0.8, ha='right', multialignment='center')
    ax.set_xticks(xt)
    ax.set_xticklabels([str(v) if len(xt) != 6 else f'{v:.1f}' for v in xt], fontsize=9.5)
    ax.set_xticks(np.arange(minor, xl[1], minor*2), minor=True)
    ax.tick_params(axis='x', which='minor', length=0)
    ax.tick_params(axis='both', which='major', length=3, width=1, color='#333333', pad=2)
    ax.grid(True, which='major', color='#EBEBEB', lw=1.5, zorder=0)
    ax.grid(True, which='minor', axis='x', color='#EBEBEB', lw=0.8, zorder=0)
    ax.set_axisbelow(True)
    for sp in ax.spines.values():
        sp.set_color('#333333')
        sp.set_linewidth(1.3)
    if suffix:
        cb_labels = [f'{v}{suffix}' for v in cb_ticks]
    else:
        cb_labels = ['0.00005', '0.00010', '0.00015']
    color_key(cb, bar_cmap, 0, vmax, cb_ticks, cb_labels, 'p.adjust', cb[0], title_y)


# panel E
def violin(ax, spec, y, color):
    knots = [p.split(' ') for p in spec.split(',')]
    xk = [float(p[0]) for p in knots]
    hk = [float(p[1])/100 for p in knots]
    xs = np.arange(xk[0], xk[-1]+0.25, 0.5)
    hw = np.interp(xs, xk, hk)
    # round off the straight pieces between knots
    kern = np.ones(9)/9
    smooth = np.convolve(np.pad(hw, 4, mode='edge'), kern, mode='valid')
    smooth = np.convolve(np.pad(smooth, 4, mode='edge'), kern, mode='valid')
    if smooth.max() > 0.1:
        smooth = smooth*min(hw.max()/smooth.max(), 1.2)
    ax.fill(np.r_[xs, xs[::-1]], np.r_[y+smooth, y-smooth[::-1]], fc=color, ec='#333333', lw=1.4, joinstyle='round')


facet_x = np.linspace(966, 1693, 7)
e_panels = [
    (genes_e1, viol_e1, ticks_e1, 569, 830, (-0.57, 6.62), 501, 541, 869, 1329),
    (genes_e2, viol_e2, ticks_e2, 971, 1231, (-0.57, 6.59), 905, 945, 1267, 1323),
    (genes_e3, viol_e3, ticks_e3, 1384, 1632, (-0.59, 6.62), 1305, 1355, 1666, 1324),
    (genes_e4, viol_e4, ticks_e4, 1791, 2032, (-0.58, 6.62), 1711, 1755, 2068, 1314),
    (genes_e5, viol_e5, ticks_e5, 2189, 2432, (-0.58, 6.61), 2110, 2156, 2471, 1317),
]
for p, (genes, viols, ticks, top, bottom, yl, title_y, gene_y, lab_y, title_x) in enumerate(e_panels):
    for g in range(6):
        ax = px_axes(facet_x[g], top, facet_x[g+1], bottom)
        for r, spec in enumerate(viols[g]):
            violin(ax, spec, 6-r, cluster_colors[6-r])
        for i in range(len(spike_x)):
            if spike_panel[i] == p and spike_gene[i] == g:
                ax.vlines(spike_x[i], spike_cluster[i]-spike_hw[i]/100, spike_cluster[i]+spike_hw[i]/100, color='#333333', lw=1.4)
        ax.set_xlim(0, 100)
        ax.set_ylim(*yl)
        start, step, lab_pos, lab = ticks[g]
        ax.set_xticks(np.arange(start, 100.01, step))
        ax.tick_params(axis='x', length=5, width=1.2, labelbottom=False)
        ax.text(lab_pos, -0.035, lab, transform=ax.get_xaxis_transform(), ha='center', va='top',
                fontsize=7 if (p == 0 and g == 0) else 10.5)
        if g == 0:
            ax.set_yticks(range(7))
            ax.set_yticklabels(cluster_names, fontsize=12.5)
            ax.tick_params(axis='y', length=3, width=1.2, pad=1)
        else:
            ax.set_yticks([])
        for sp in ax.spines.values():
            sp.set_linewidth(1.2)
        ax.spines['bottom'].set_linewidth(1.8)
        ov.text((facet_x[g]+facet_x[g+1])/2, gene_y, genes[g], rotation=-90, fontsize=10, fontweight='bold',
                ha='center', va='center', linespacing=0.85)
    ov.text(title_x, title_y, e_titles[p], fontsize=11.8, fontweight='bold', ha='center', va='center')
    ov.text(933, (top+bottom)/2, 'Cluster', rotation=90, fontsize=11, ha='center', va='center')
    ov.text(1351, lab_y, 'Expression Level', fontsize=11.5, ha='center', va='center')

fig.savefig('out.png', dpi=100)
